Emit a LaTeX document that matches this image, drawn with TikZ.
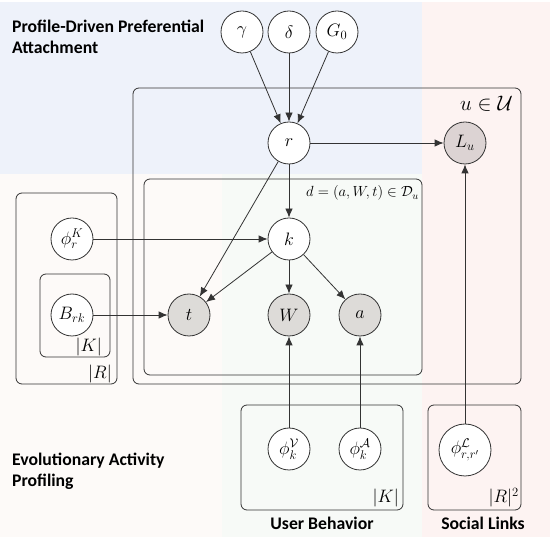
\RequirePackage{fix-cm}
\documentclass[tikz,border=0pt]{standalone}
\usepackage{amsmath}
\usepackage{amssymb}
\usepackage{fontspec}
\setsansfont{Carlito}
\usetikzlibrary{arrows.meta,positioning,backgrounds}
\definecolor{blueback}{HTML}{EEF2FA}
\definecolor{pinkback}{HTML}{FDF3F2}
\definecolor{creamback}{HTML}{FDFAF8}
\definecolor{greenback}{HTML}{F7FAF7}
\definecolor{obsgray}{HTML}{DDDBD8}
\definecolor{obspink}{HTML}{DCD3D3}
\definecolor{edge}{HTML}{333333}

\begin{document}
\begin{tikzpicture}
[x=1pt,y=-1pt,
>={Latex[length=9pt,width=7.5pt]},
var/.style={circle,draw=edge,fill=white,line width=0.8pt,inner sep=0pt,minimum size=42pt,font=\fontsize{18}{21}\selectfont},
obs/.style={var,fill=obsgray},
plate/.style={draw=edge,line width=0.8pt,rounded corners=6pt},
platelabel/.style={anchor=base east,inner sep=0pt,font=\fontsize{18}{20}\selectfont},
region/.style={inner sep=0pt,font=\sffamily\bfseries\fontsize{17.7}{21}\selectfont}]
\useasboundingbox (0,0) rectangle (550,537);

% background regions
\fill[blueback] (0,2) rectangle (422,174);
\fill[pinkback] (422,2) rectangle (550,537);
\fill[creamback] (0,174) rectangle (222,537);
\fill[greenback] (222,174) rectangle (422,537);

% plates
\draw[plate] (133,88) rectangle (521,384);
\draw[plate] (144,179) rectangle (422,375);
\draw[plate] (16,193) rectangle (117,384);
\draw[plate] (40,274) rectangle (110,357);
\draw[plate] (241,405) rectangle (403,510);
\draw[plate] (428,405) rectangle (521,510);

\node (Ulabel) at (513,111) [platelabel,font=\fontsize{21}{24}\selectfont] {$u \in \mathcal{U}$};
\node (Dlabel) at (419,197) [platelabel,font=\fontsize{14.7}{17}\selectfont] {$d = (a, W, t) \in \mathcal{D}_u$};
\node (Rlabel) at (112,379) [platelabel] {$|R|$};
\node (Klabel) at (102,352) [platelabel] {$|K|$};
\node (KBlabel) at (399,503) [platelabel] {$|K|$};
\node (RRlabel) at (519,503) [platelabel] {$|R|^2$};

% region titles
\node (PDPA) at (12,20) [region,anchor=north west,align=left] {Profile-Driven Preferential\\Attachment};
\node (EAP) at (12,453) [region,anchor=north west,align=left] {Evolutionary Activity\\Profiling};
\node (UB) at (322,530) [region,anchor=base] {User Behavior};
\node (SL) at (483,530) [region,anchor=base] {Social Links};

% variables
\node (gamma) at (242,32) [var] {$\gamma$};
\node (delta) at (289,32) [var] {$\delta$};
\node (G0) at (337,32) [var] {$G_0$};
\node (r) at (289,143) [var] {$r$};
\node (Lu) at (465,143) [obs,fill=obspink] {$L_u$};
\node (k) at (289,239) [var] {$k$};
\node (phiK) at (72,239) [var] {$\phi_r^K$};
\node (Brk) at (72,315) [var] {$B_{rk}$};
\node (t) at (189,315) [obs] {$t$};
\node (W) at (289,315) [obs] {$W$};
\node (a) at (360,315) [obs] {$a$};
\node (phiV) at (289,449) [var] {$\phi_k^{\mathcal{V}}$};
\node (phiA) at (360,449) [var] {$\phi_k^{\mathcal{A}}$};
\node (phiL) at (465,450) [var,minimum size=52pt] {$\phi^{\mathcal{L}}_{r,r'}$};

\draw [->,edge,line width=0.8pt] (gamma) -- (r);
\draw [->,edge,line width=0.8pt] (delta) -- (r);
\draw [->,edge,line width=0.8pt] (G0) -- (r);
\draw [->,edge,line width=0.8pt] (r) -- (Lu);
\draw [->,edge,line width=0.8pt] (r) -- (k);
\draw [->,edge,line width=0.8pt] (r) -- (t);
\draw [->,edge,line width=0.8pt] (phiK) -- (k);
\draw [->,edge,line width=0.8pt] (k) -- (t);
\draw [->,edge,line width=0.8pt] (k) -- (W);
\draw [->,edge,line width=0.8pt] (k) -- (a);
\draw [->,edge,line width=0.8pt] (Brk) -- (t);
\draw [->,edge,line width=0.8pt] (phiV) -- (W);
\draw [->,edge,line width=0.8pt] (phiA) -- (a);
\draw [->,edge,line width=0.8pt] (phiL) -- (Lu);
\end{tikzpicture}
\end{document}
